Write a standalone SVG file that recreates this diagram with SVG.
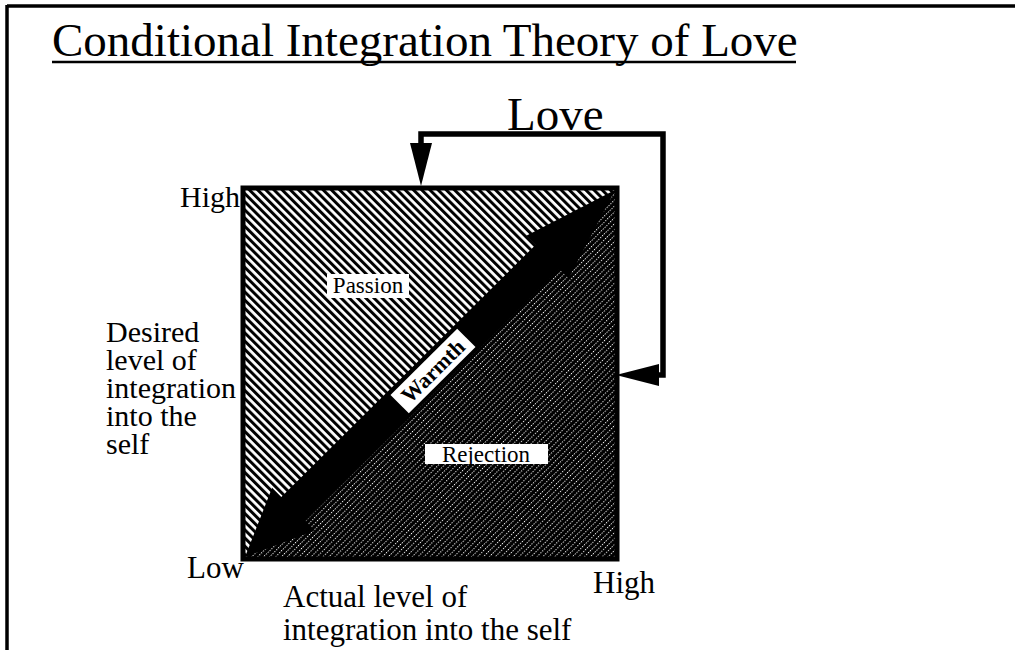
<svg xmlns="http://www.w3.org/2000/svg" width="1015" height="650" viewBox="0 0 1015 650">
<defs>
<style>
.t{font-family:"Liberation Serif","Times New Roman",serif;fill:#000}
.lbl{font-size:30px}
.xl{font-size:31px}
.inner{font-size:23px}
.conn{fill:none;stroke:#000;stroke-width:5.5;stroke-linejoin:miter}
</style>
<pattern id="hatch" patternUnits="userSpaceOnUse" width="5.8" height="10" patternTransform="rotate(-45)">
<rect width="5.8" height="10" fill="#fff"/>
<rect width="3" height="10" fill="#000"/>
</pattern>
<pattern id="dots" patternUnits="userSpaceOnUse" width="4.2" height="2.6" patternTransform="rotate(45)">
<rect width="4.2" height="2.6" fill="#000"/>
<rect x="0" y="0" width="1" height="1.2" fill="#fff"/>
</pattern>
<marker id="ah" markerUnits="userSpaceOnUse" markerWidth="44" markerHeight="22" refX="0" refY="11" orient="auto-start-reverse" overflow="visible">
<path d="M0,0 L43,11 L0,22 z" fill="#000"/>
</marker>
</defs>
<rect width="1015" height="650" fill="#fff"/>
<g id="frame">
<line x1="7" y1="6" x2="1015" y2="6" stroke="#000" stroke-width="3.5"/>
<line x1="7" y1="5" x2="7" y2="650" stroke="#000" stroke-width="3.5"/>
</g>
<g id="title">
<text class="t" x="52" y="56" font-size="47">Conditional Integration Theory of Love</text>
<line x1="52" y1="62" x2="796" y2="62" stroke="#000" stroke-width="2.5"/>
</g>
<g id="chart">
<polygon points="243,188 617,188 243,559" fill="url(#hatch)"/>
<polygon points="617,188 617,559 243,559" fill="url(#dots)"/>
<polygon id="warmth-arrow" points="245,557 314.4,530.4 305.2,521.2 559.4,269 568.6,278.3 615,190 526.3,235.7 535.5,244.9 281.3,497 272.1,487.8" fill="#000"/>
<rect x="243" y="188" width="374" height="371" fill="none" stroke="#000" stroke-width="5"/>
</g>
<g id="passion">
<rect x="327" y="274" width="82" height="24" fill="#fff"/>
<text class="t inner" x="368" y="293" text-anchor="middle">Passion</text>
</g>
<g id="rejection">
<rect x="425" y="444" width="123" height="20" fill="#fff"/>
<text class="t inner" x="486" y="462" text-anchor="middle">Rejection</text>
</g>
<g id="warmth" transform="translate(433,371) rotate(-44.8)">
<rect x="-47" y="-13" width="94" height="26" fill="#fff"/>
<text class="t" x="0" y="7.5" font-size="22" font-weight="bold" text-anchor="middle">Warmth</text>
</g>
<g id="love">
<text class="t" x="507" y="130" font-size="47">Love</text>
</g>
<g id="connectors">
<path class="conn" d="M659,375 H663 V134 H421 V143" marker-start="url(#ah)" marker-end="url(#ah)"/>
</g>
<g id="y-axis">
<text class="t lbl" x="180" y="207">High</text>
<text class="t lbl" x="106" y="342"><tspan x="106" y="342">Desired</tspan><tspan x="106" y="370">level of</tspan><tspan x="106" y="398">integration</tspan><tspan x="106" y="426">into the</tspan><tspan x="106" y="454">self</tspan></text>
</g>
<g id="x-axis">
<text class="t xl" x="187" y="578">Low</text>
<text class="t xl" x="593" y="593">High</text>
<text class="t xl" x="283" y="607"><tspan x="283" y="607">Actual level of</tspan><tspan x="283" y="640">integration into the self</tspan></text>
</g>
</svg>
